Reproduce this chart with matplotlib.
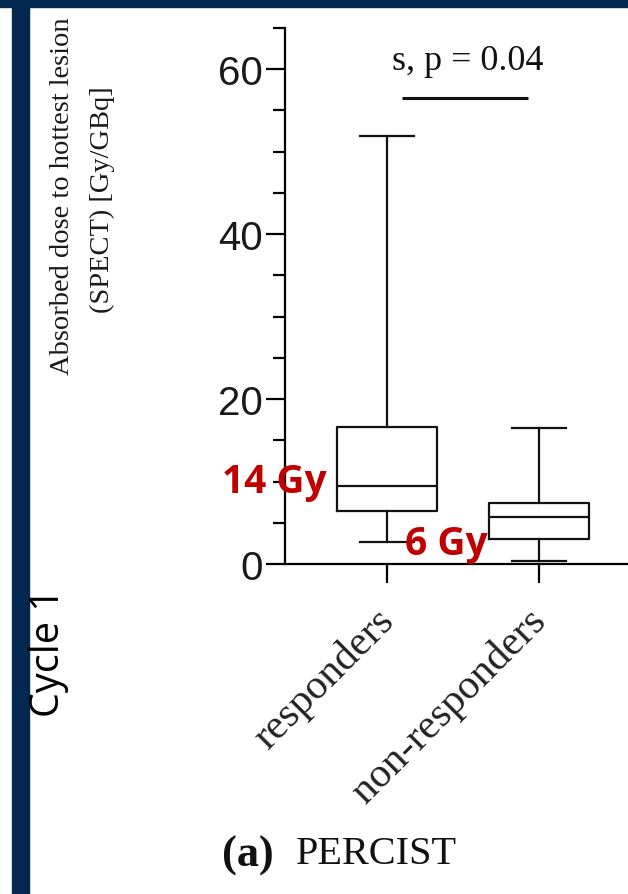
import matplotlib
matplotlib.use("Agg")
import matplotlib.pyplot as plt
from matplotlib.patches import Rectangle
from matplotlib.transforms import ScaledTranslation

# box plot values (Gy/GBq)
groups = ["responders", "non-responders"]
whisker_low = [2.7, 0.4]
q1 = [6.4, 3.0]
medians = [9.5, 5.7]
q3 = [16.6, 7.4]
whisker_high = [51.9, 16.5]

sig_text = "s, p = 0.04"
sig_level = 56.5
annot_labels = ["14 Gy", "6 Gy"]

W, H = 628, 895
fig = plt.figure(figsize=(W / 100, H / 100), dpi=100)
fig.patch.set_facecolor("white")

# navy frame strips (top and left)
navy = "#03284f"
fig.patches.append(Rectangle((0, 1 - 8 / H), 1, 8 / H, transform=fig.transFigure,
                             color=navy, zorder=0))
fig.patches.append(Rectangle((12 / W, 0), 17 / W, 1, transform=fig.transFigure,
                             color=navy, zorder=0))

# axes placed so 0 sits at y=565px and 65 at the top of the axis
ax = fig.add_axes([285 / W, (H - 565) / H, (W - 285) / W, (565 - 28.75) / H])
ax.set_facecolor("none")

stats = []
for i, g in enumerate(groups):
    stats.append(dict(label=g, whislo=whisker_low[i], q1=q1[i], med=medians[i],
                      q3=q3[i], whishi=whisker_high[i], fliers=[]))

lw = 1.6
ax.bxp(stats, positions=[1, 2], widths=0.66, showfliers=False, patch_artist=False,
       boxprops=dict(color="#111111", linewidth=lw),
       medianprops=dict(color="#111111", linewidth=lw),
       whiskerprops=dict(color="#111111", linewidth=lw),
       capprops=dict(color="#111111", linewidth=lw),
       capwidths=0.35)

ax.set_xlim(1 - 102 / 152, 2 + 89 / 152)
ax.set_ylim(0, 65)

for s in ["top", "right"]:
    ax.spines[s].set_visible(False)
ax.spines["left"].set_linewidth(1.6)
ax.spines["bottom"].set_linewidth(1.6)

ax.set_yticks([0, 20, 40, 60])
ax.set_yticks(range(5, 66, 5), minor=True)
ax.tick_params(axis="y", which="major", length=14, width=1.6, pad=2, labelsize=29,
               labelcolor="#1a1a1a")
ax.tick_params(axis="y", which="minor", length=8.5, width=1.6)
for t in ax.get_yticklabels():
    t.set_family("Liberation Sans")

ax.set_xticks([1, 2])
ax.set_xticklabels(groups, rotation=45, ha="right", rotation_mode="anchor",
                   family="Liberation Serif", fontsize=30, color="#222222")
ax.tick_params(axis="x", length=14, width=1.6, pad=4)
shift = ScaledTranslation(-0.13, -0.12, fig.dpi_scale_trans)
for t in ax.get_xticklabels():
    t.set_transform(t.get_transform() + shift)

# significance bar
ax.plot([1.1, 1.93], [sig_level, sig_level], color="#111111", lw=2.2, solid_capstyle="butt")
ax.text(1.53, 59.0, sig_text, ha="center", va="bottom", family="Liberation Serif",
        fontsize=26, color="#111111")

# red annotations
red = "#c00000"
fig.text(274 / W, 1 - 483 / H, annot_labels[0], ha="center", va="center",
         family="Open Sans", fontweight="bold", fontsize=28, color=red)
fig.text(446 / W, 1 - 545 / H, annot_labels[1], ha="center", va="center",
         family="Open Sans", fontweight="bold", fontsize=28, color=red)

# y label lines
fig.text(63 / W, 1 - 196 / H, "Absorbed dose to hottest lesion", rotation=90,
         ha="center", va="center", family="Liberation Serif", fontsize=20.5, color="#1a1a1a")
fig.text(102 / W, 1 - 200 / H, "(SPECT) [Gy/GBq]", rotation=90,
         ha="center", va="center", family="Liberation Serif", fontsize=20.5, color="#1a1a1a")
fig.text(49 / W, 1 - 653 / H, "Cycle 1", rotation=90, ha="center", va="center",
         family="Open Sans", fontsize=28.5, color="black")

# panel caption
fig.text(222 / W, 1 - 856 / H, "(a)", ha="left", va="center", family="Liberation Serif",
         fontweight="bold", fontsize=32, color="#111111")
fig.text(296 / W, 1 - 855 / H, "PERCIST", ha="left", va="center", family="Liberation Serif",
         fontsize=29, color="#111111")

fig.savefig("out.png", dpi=100)
